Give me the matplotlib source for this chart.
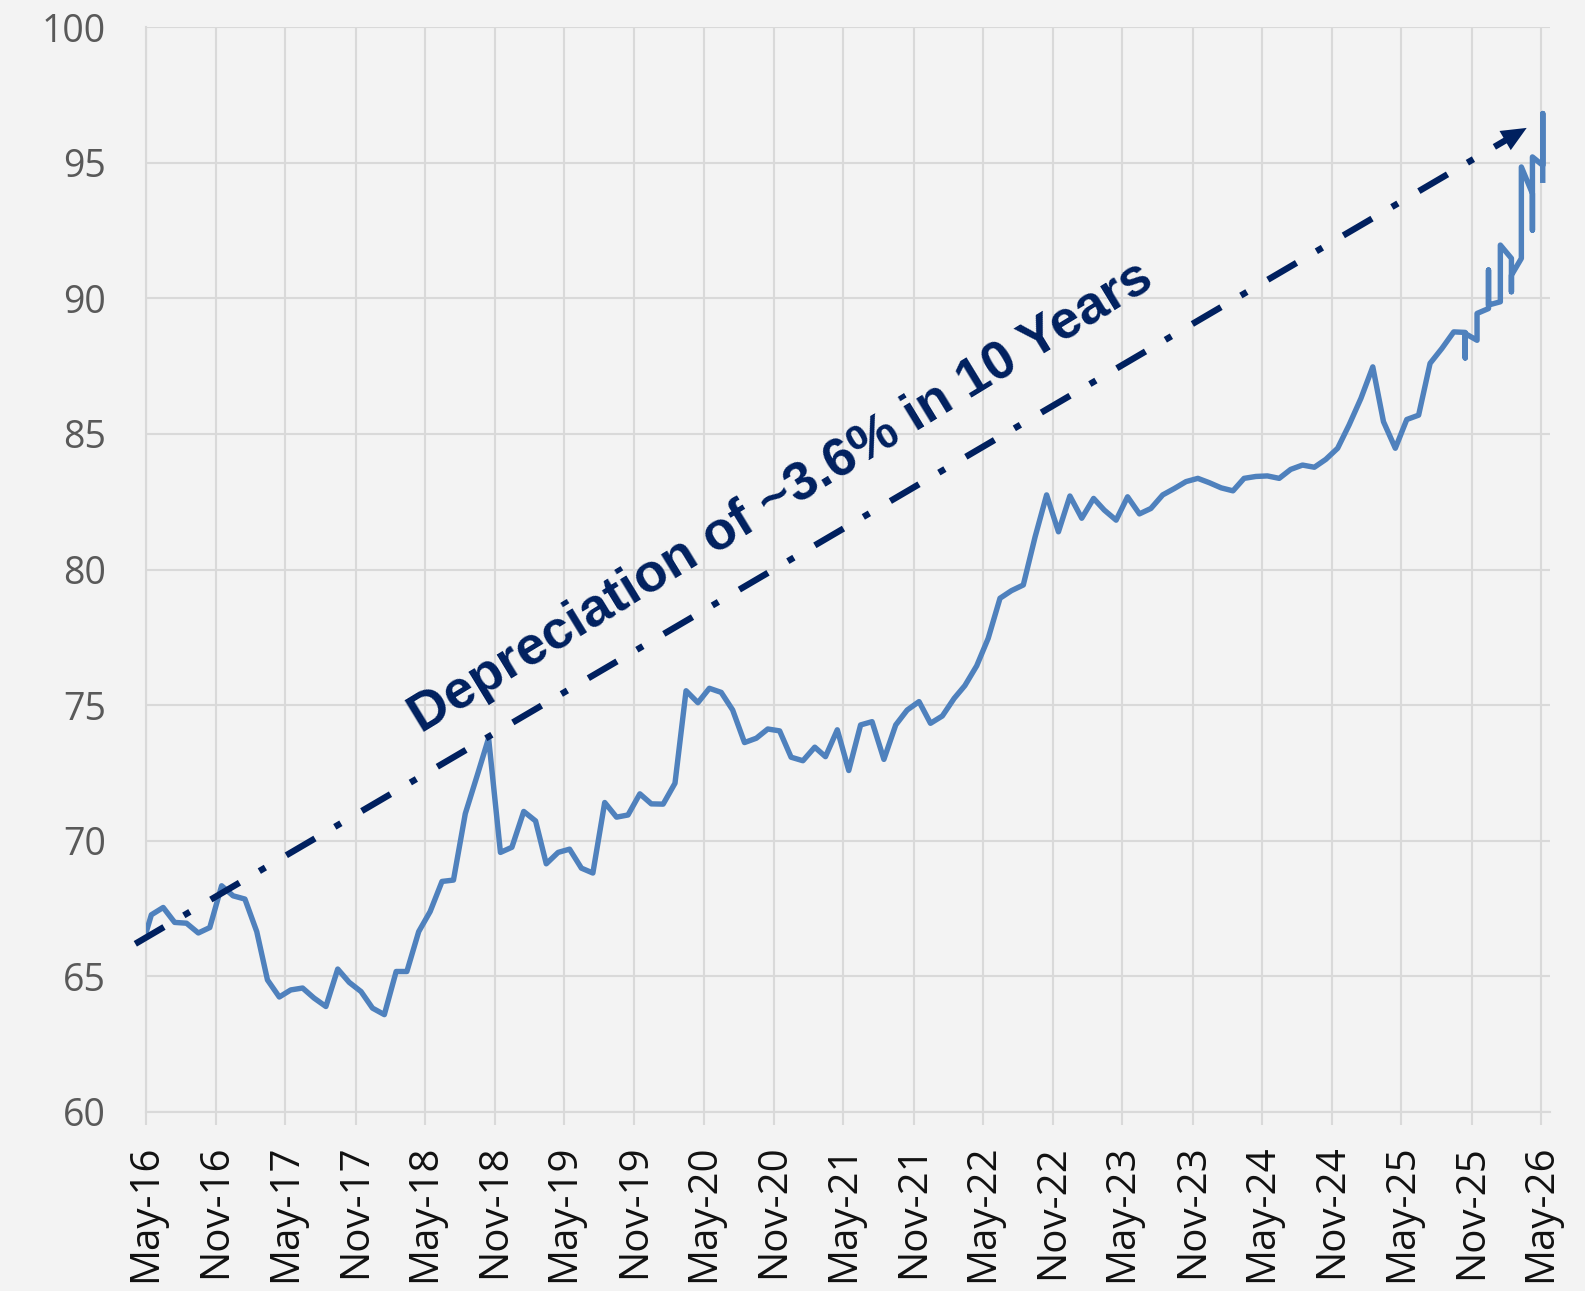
import numpy as np
import pandas as pd
import matplotlib
matplotlib.use("Agg")
import matplotlib.pyplot as plt
import matplotlib.dates as mdates

# ---- data ----
first_date = "2016-05-02"
first_value = 66.65

# mid-month readings, May-16 .. Sep-25
monthly_values = [
    67.27, 67.54, 66.99, 66.96, 66.60, 66.80, 68.34, 67.97, 67.85, 66.65,
    64.87, 64.24, 64.50, 64.57, 64.20, 63.89, 65.27, 64.78, 64.44, 63.83,
    63.59, 65.18, 65.18, 66.65, 67.39, 68.50, 68.55, 71.00, 72.40, 73.78,
    69.57, 69.76, 71.08, 70.73, 69.15, 69.57, 69.69, 68.99, 68.81, 71.41,
    70.87, 70.95, 71.73, 71.36, 71.35, 72.12, 75.53, 75.09, 75.62, 75.47,
    74.82, 73.62, 73.78, 74.12, 74.05, 73.08, 72.95, 73.45, 73.10, 74.09,
    72.59, 74.27, 74.39, 73.00, 74.27, 74.82, 75.13, 74.33, 74.60, 75.25,
    75.72, 76.45, 77.46, 78.94, 79.22, 79.43, 81.21, 82.75, 81.39, 82.71,
    81.89, 82.62, 82.19, 81.82, 82.68, 82.05, 82.25, 82.75, 82.99, 83.24,
    83.36, 83.20, 83.01, 82.90, 83.36, 83.43, 83.45, 83.36, 83.69, 83.85,
    83.77, 84.06, 84.47, 85.33, 86.31, 87.47, 85.45, 84.47, 85.53, 85.69,
    87.60, 88.15, 88.76,
]

# recent months have several readings on the same date
late_dates = ["2025-10-15", "2025-11-15", "2025-12-15", "2026-01-15",
              "2026-02-13", "2026-03-11", "2026-04-09", "2026-05-06"]
late_values = [
    [88.74, 87.80, 88.70],
    [88.45, 89.44],
    [89.62, 91.04, 89.75],
    [89.87, 91.96],
    [91.47, 90.24, 90.85],
    [91.47, 94.84],
    [93.86, 92.51, 95.21],
    [94.90, 96.81, 94.35],
]

tick_dates = pd.date_range("2016-05-01", "2026-05-01", freq="6MS")

note_text = "Depreciation of ~3.6% in 10 Years"
arrow_start = ("2016-04-03", 66.2)
arrow_end = ("2026-03-25", 96.28)

# ---- build series ----
dates = [pd.Timestamp(first_date)]
values = [first_value]
mid_month = pd.date_range("2016-05-01", periods=len(monthly_values), freq="MS") + pd.Timedelta(days=14)
dates += list(mid_month)
values += monthly_values
for d, vs in zip(late_dates, late_values):
    for v in vs:
        dates.append(pd.Timestamp(d))
        values.append(v)

bg = "#f3f3f3"
grid_c = "#d9d9d9"
line_c = "#4f81bd"
navy = "#00205f"

fig = plt.figure(figsize=(15.85, 12.91), dpi=100, facecolor=bg)
ax = fig.add_axes([146 / 1585, 1 - 1112 / 1291, (1550 - 146) / 1585, (1112 - 27) / 1291])
ax.set_facecolor(bg)

ax.plot(dates, values, color=line_c, lw=3.9, solid_joinstyle="round", zorder=3)

ax.set_ylim(60, 100)
ax.set_yticks(np.arange(60, 101, 5))
ax.set_xlim(pd.Timestamp("2016-05-01"), pd.Timestamp("2026-05-25"))
ax.set_xticks(tick_dates)
ax.xaxis.set_major_formatter(mdates.DateFormatter("%b-%y"))

ax.grid(True, color=grid_c, lw=1.5, zorder=0)
ax.set_axisbelow(True)
for s in ["top", "right"]:
    ax.spines[s].set_visible(False)
for s in ["left", "bottom"]:
    ax.spines[s].set_color(grid_c)
    ax.spines[s].set_linewidth(1.5)

ax.tick_params(axis="x", length=9.5, width=1.5, color=grid_c, pad=14,
               labelsize=29, labelcolor="#111111", labelrotation=90)
ax.tick_params(axis="y", length=0, pad=29, labelsize=27, labelcolor="#595959")
for lab in ax.get_xticklabels() + ax.get_yticklabels():
    lab.set_fontfamily("Open Sans")

# dash-dot trend arrow
x0 = mdates.date2num(pd.Timestamp(arrow_start[0]))
x1 = mdates.date2num(pd.Timestamp(arrow_end[0]))
y0, y1 = arrow_start[1], arrow_end[1]
f = 0.985
xs = x0 + f * (x1 - x0)
ys = y0 + f * (y1 - y0)
lw_a = 4.6
ax.plot([x0, xs], [y0, ys], color=navy, lw=lw_a, clip_on=False, zorder=4,
        linestyle=(0, (5.2, 3.6, 1.1, 3.8)), dash_capstyle="butt")
ax.annotate("", xy=(x1, y1), xytext=(xs - 0.01 * (x1 - x0), ys - 0.01 * (y1 - y0)),
            arrowprops=dict(arrowstyle="-|>,head_length=0.9,head_width=0.4",
                            mutation_scale=20, color=navy, lw=0, shrinkA=0, shrinkB=0),
            zorder=5, annotation_clip=False)

fig.text(781 / 1585, 1 - 497 / 1291, note_text, fontsize=39, fontweight="bold",
         family="Liberation Sans", color=navy, rotation=31.4,
         rotation_mode="anchor", ha="center", va="center")

fig.savefig("out.png", dpi=100, facecolor=bg)
